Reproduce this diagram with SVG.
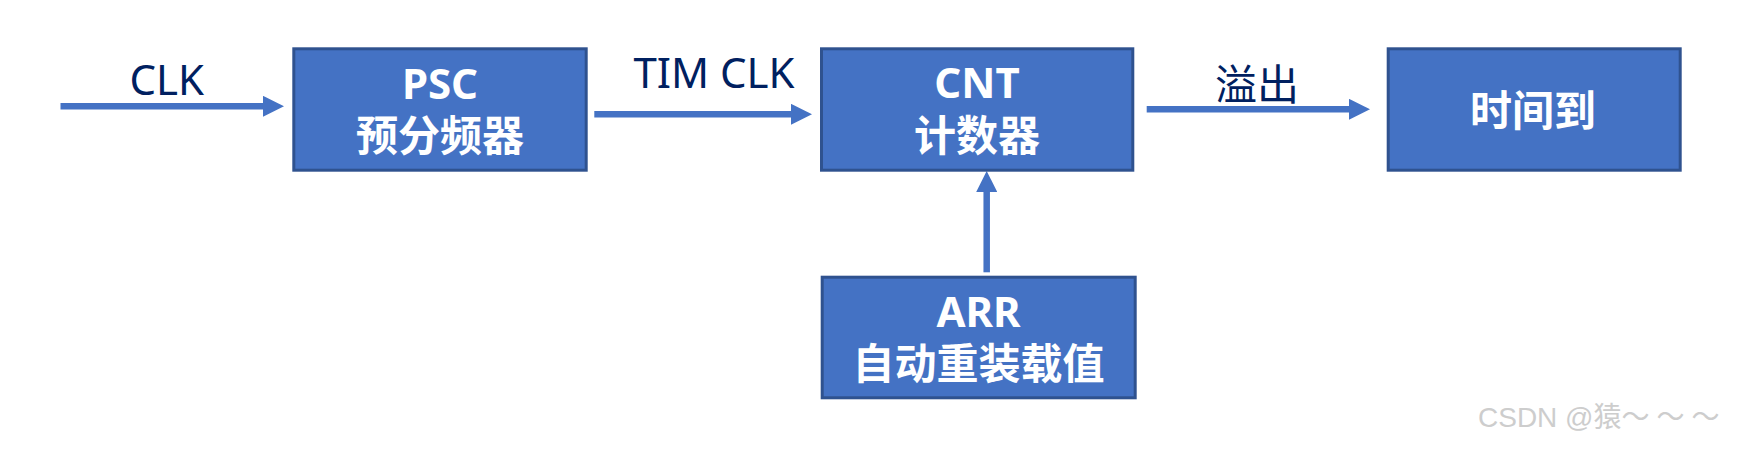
<svg xmlns="http://www.w3.org/2000/svg" width="1738" height="450" viewBox="0 0 1738 450">
  <style>
    .box { fill: #4472C4; stroke: #2F528F; stroke-width: 3; }
    .btxt { fill: #FFFFFF; font-family: "Noto Sans", "Noto Sans CJK SC", sans-serif; font-weight: bold; font-size: 42px; text-anchor: middle; }
    .lbl { fill: #002060; font-family: "Noto Sans", "Noto Sans CJK SC", sans-serif; font-size: 42px; text-anchor: middle; }
    .conn { stroke: #4472C4; stroke-width: 6.5; fill: none; }
    .wm { fill: #CDCDCD; font-family: "Liberation Sans", "Noto Sans CJK SC", sans-serif; font-size: 28px; }
  </style>
  <defs>
    <marker id="ah" markerUnits="userSpaceOnUse" markerWidth="21" markerHeight="21" refX="0" refY="10.5" orient="auto" viewBox="0 0 21 21">
      <path d="M0,0 L21,10.5 L0,21 Z" fill="#4472C4"/>
    </marker>
  </defs>
  <rect width="1738" height="450" fill="#FFFFFF"/>

  <g id="connectors">
    <line class="conn" x1="60.5" y1="106.3" x2="263" y2="106.3" marker-end="url(#ah)"/>
    <line class="conn" x1="594.3" y1="114.3" x2="791" y2="114.3" marker-end="url(#ah)"/>
    <line class="conn" x1="1146.7" y1="109.3" x2="1349" y2="109.3" marker-end="url(#ah)"/>
    <line class="conn" x1="986.7" y1="272.3" x2="986.7" y2="192" marker-end="url(#ah)"/>
    <text class="lbl" x="166.7" y="95">CLK</text>
    <text class="lbl" x="714" y="88.3">TIM CLK</text>
    <text class="lbl" x="1257" y="99.5" font-size="41">溢出</text>
  </g>

  <g id="psc">
    <rect class="box" x="293.8" y="48.8" width="292.4" height="121.4"/>
    <text class="btxt" x="440" y="98.5">PSC</text>
    <text class="btxt" x="440" y="151">预分频器</text>
  </g>

  <g id="cnt">
    <rect class="box" x="821.5" y="48.8" width="311.3" height="121.4"/>
    <text class="btxt" x="977" y="98.3">CNT</text>
    <text class="btxt" x="977" y="150.5">计数器</text>
  </g>

  <g id="timeout">
    <rect class="box" x="1388.2" y="48.8" width="292" height="121.4"/>
    <text class="btxt" x="1533" y="126">时间到</text>
  </g>

  <g id="arr">
    <rect class="box" x="822.2" y="277.2" width="313" height="120.6"/>
    <text class="btxt" x="978.5" y="326.7">ARR</text>
    <text class="btxt" x="978.5" y="378.5">自动重装载值</text>
  </g>

  <text class="wm" x="1478" y="427">CSDN @猿<tspan letter-spacing="7">～～～</tspan></text>
</svg>
